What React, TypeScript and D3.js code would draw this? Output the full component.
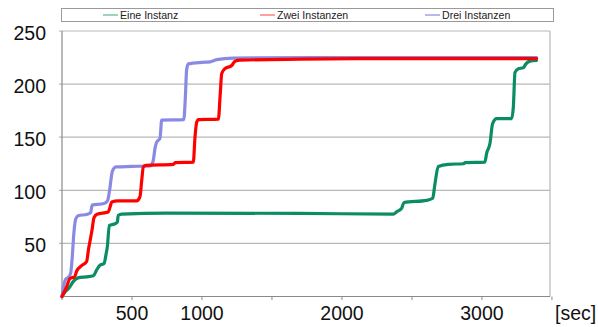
import React from "react";
import * as d3 from "d3";

const seriesNames = ["Eine Instanz", "Zwei Instanzen", "Drei Instanzen"];
const seriesColors = ["#0a8c64", "#ff0000", "#8a8ae4"];
const legendColors = ["#5fb88f", "#ff6060", "#8a8ae0"];

const yTicks = [50, 100, 150, 200, 250];
const xTicks = [0, 500, 1000, 1500, 2000, 2500, 3000, 3500];
const xLabels = [500, 1000, 2000, 3000];

const eine: [number, number][] = [
  [0, 0], [20, 4], [50, 8], [80, 14], [115, 17.5], [170, 18.5], [224, 19.5], [248, 25], [271, 29.5],
  [300, 31], [315, 40], [324, 47], [338, 67], [380, 68.5], [395, 70], [402, 76.5], [426, 77.5],
  [748, 78.5], [1700, 78.3], [2367, 77.5], [2390, 79.7], [2426, 83], [2443, 88.5], [2605, 90.5],
  [2648, 92.5], [2664, 106], [2688, 122.5], [2760, 124.5], [2867, 125], [2880, 126], [3021, 126.5],
  [3033, 134.6], [3057, 144], [3076, 162.8], [3105, 167.5], [3212, 167.5], [3224, 178], [3236, 211],
  [3260, 214.5], [3295, 215.4], [3314, 219], [3343, 221.6], [3390, 222.3],
];

const zwei: [number, number][] = [
  [0, 0], [30, 8], [57, 17], [90, 18.5], [105, 24], [140, 29], [176, 33], [190, 45], [200, 52],
  [215, 63], [228, 74], [250, 77.5], [330, 79.5], [345, 85], [355, 89], [400, 90], [533, 90],
  [557, 94], [570, 110], [581, 122], [600, 123.5], [795, 124.5], [810, 126], [938, 126.5],
  [950, 150], [962, 164], [975, 166.5], [1117, 167], [1130, 190], [1141, 210], [1164, 214.5],
  [1212, 217.5], [1236, 221.5], [1271, 222.5], [1700, 223.5], [2200, 224], [3390, 224],
];

const drei: [number, number][] = [
  [0, 0], [15, 12], [25, 16], [45, 18], [62, 22], [72, 35], [85, 60], [98, 73], [115, 76],
  [180, 77.5], [205, 79], [215, 86], [300, 87.5], [325, 90], [340, 100], [352, 112], [360, 118],
  [385, 122], [500, 122.5], [629, 123], [650, 127], [665, 140], [675, 145], [700, 149], [712, 166],
  [870, 166.5], [882, 190], [890, 213], [902, 219], [1000, 220.5], [1057, 221], [1105, 223],
  [1224, 224.5], [1800, 225], [3390, 225],
];

const allSeries = [eine, zwei, drei];

export default function App() {
  const W = 598, H = 327;
  const left = 62, right = 550, top = 31, bottom = 296.5;
  const x = d3.scaleLinear().domain([0, 3486]).range([left, right]);
  const y = d3.scaleLinear().domain([0, 250]).range([bottom, top]);
  const line = d3.line<[number, number]>()
    .x(d => x(d[0]))
    .y(d => y(d[1]))
    .curve(d3.curveMonotoneX);
  const font = "'Liberation Sans', Arial, sans-serif";
  const legendX = [103, 260, 425];
  const drawOrder = [0, 2, 1];

  return (
    <svg width={W} height={H} style={{ position: "absolute", left: 0, top: 0, background: "#fff" }} fontFamily={font}>
      {/* legend */}
      <rect x={61.5} y={8.5} width={492} height={13} fill="#fff" stroke="#9a9a9a" strokeWidth={1} />
      {seriesNames.map((n, i) => (
        <g key={n}>
          <line x1={legendX[i]} x2={legendX[i] + 15} y1={15} y2={15} stroke={legendColors[i]} strokeWidth={1.2} />
          <text x={legendX[i] + 17} y={18.8} fontSize={10.6} fill="#222">{n}</text>
        </g>
      ))}
      {/* gridlines */}
      {yTicks.map(t => (
        <line key={t} x1={left - 3} x2={right} y1={y(t)} y2={y(t)} stroke="#b8b8b8" strokeWidth={1.2} />
      ))}
      <line x1={right} x2={right} y1={top} y2={bottom} stroke="#b8b8b8" strokeWidth={1.2} />
      {/* axes */}
      <line x1={left} x2={left} y1={top} y2={bottom} stroke="#8a8a8a" strokeWidth={1.2} />
      <line x1={left} x2={right} y1={bottom} y2={bottom} stroke="#8a8a8a" strokeWidth={1.2} />
      {xTicks.map(t => (
        <line key={t} x1={x(t)} x2={x(t)} y1={bottom} y2={bottom + 3.5} stroke="#8a8a8a" strokeWidth={1} />
      ))}
      {yTicks.map(t => (
        <text key={t} x={46} y={y(t) + 9} textAnchor="end" fontSize={19.5} fill="#111">{t}</text>
      ))}
      {xLabels.map(t => (
        <text key={t} x={x(t)} y={320} textAnchor="middle" fontSize={19.5} fill="#111">{t}</text>
      ))}
      <text x={555} y={320} fontSize={19.5} fill="#111">[sec]</text>
      {/* series */}
      {drawOrder.map(i => (
        <path key={i} d={line(allSeries[i]) || ""} fill="none" stroke={seriesColors[i]} strokeWidth={3.2}
          strokeLinejoin="round" strokeLinecap="round" />
      ))}
    </svg>
  );
}
